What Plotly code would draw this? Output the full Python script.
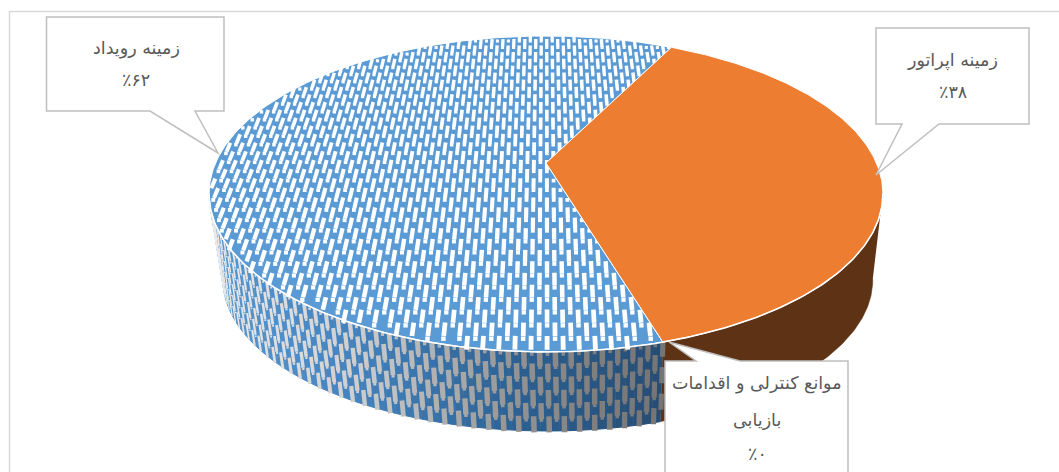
import numpy as np
import plotly.graph_objects as go

# Chart data
labels = [["زمینه اپراتور"], ["موانع کنترلی و اقدامات", "بازیابی"], ["زمینه رویداد"]]
values = [38, 0, 62]
first_slice_deg = 26.5

# Slice styling
top_colors = ["#ED7D31", "#A5A5A5", "#5B9BD5"]
side_colors = ["#5E3214", "#555555", None]
TEXT = "#595959"
CALLOUT = "#BFBFBF"

# Camera model of the tilted disc
CX, CY_APEX = 546.0, 163.0
A, B, K = 151.9, 330.4, 0.196
ELL_CX, ELL_CY = 544.0, 194.0
BOT_CX, BOT_CY = 546.0, 280.0
BOT_SX, BOT_SY = 0.964, 0.956


def project(xw, yw):
    d = 1 + K * yw
    return CX + B * xw / d, CY_APEX - A * yw / d


def rim(theta):
    return project(np.sin(theta), np.cos(theta))


def lower(px, py, h=1.0):
    qx = BOT_CX + BOT_SX * (px - ELL_CX)
    qy = BOT_CY + BOT_SY * (py - ELL_CY)
    return px + (qx - px) * h, py + (qy - py) * h


def mix(stops, x):
    xs = [s[0] for s in stops]
    rgb = [np.interp(x, xs, [s[1][i] for s in stops]) for i in range(3)]
    return np.stack(rgb, axis=-1)


def css(c):
    return "rgb(%d,%d,%d)" % tuple(int(round(v)) for v in c)


# Side wall shading from left to right across the blue slice
WALL_BLUE = [(210, (85, 150, 208)), (350, (68, 130, 190)), (400, (60, 120, 176)),
             (520, (44, 96, 145)), (600, (40, 84, 128)), (670, (38, 76, 115))]
WALL_GREY = [(210, (236, 236, 236)), (350, (208, 208, 208)), (400, (190, 190, 190)),
             (520, (146, 146, 146)), (600, (126, 126, 126)), (670, (116, 116, 116))]

# Slice angles, clockwise from straight up
fractions = np.array(values, dtype=float) / sum(values)
edges = np.radians(first_slice_deg + 360 * np.concatenate([[0], np.cumsum(fractions)]))

fig = go.Figure()


def polygon(x, y, fill, line=None, width=1.0):
    fig.add_trace(go.Scatter(x=x, y=y, mode="lines", fill="toself", fillcolor=fill,
                             line=dict(color=line or fill, width=width),
                             hoverinfo="skip", showlegend=False))


def wall_strips(lo, hi, count, colour_of):
    cuts = np.linspace(lo, hi, count + 1)
    for c0, c1 in zip(cuts[:-1], cuts[1:]):
        t = np.linspace(c0, c1, 4)
        px, py = rim(t)
        qx, qy = lower(px, py)
        polygon(np.r_[px, qx[::-1]], np.r_[py, qy[::-1]], colour_of(px.mean()))


# Side walls: only the parts of each slice that face the viewer
wall_from, wall_to = np.radians(101), np.radians(259)
for i, (a, b) in enumerate(zip(edges[:-1], edges[1:])):
    lo, hi = max(a, wall_from), min(b, wall_to)
    if hi <= lo:
        continue
    if side_colors[i]:
        t = np.linspace(lo, hi, 120)
        px, py = rim(t)
        qx, qy = lower(px, py)
        polygon(np.r_[px, qx[::-1]], np.r_[py, qy[::-1]], side_colors[i], width=0.5)
    else:
        wall_strips(lo, hi, 70, lambda x: css(mix(WALL_BLUE, x)))

        # Woven texture on the blue wall: staggered rows of bars with a dot between them
        step = np.radians(2.2)
        rows = 6
        bars = {"x": [], "y": [], "s": [], "w": [], "a": [], "c": []}
        dots = {"x": [], "y": [], "c": [], "s": []}
        for r in range(rows):
            hh = (r + 0.5) / rows
            start = lo + (step / 2 if r % 2 else 0.0)
            for th in np.arange(start, hi, step):
                px, py = rim(th)
                bx, by = lower(px, py, hh)
                tx, ty = lower(px, py, hh + 0.08)
                dx0, _ = rim(th + 0.01)
                scale = min(1.0, abs(dx0 - px) / 0.01 / 410.0)
                bars["x"].append(float(bx))
                bars["y"].append(float(by))
                bars["s"].append(11.5)
                bars["w"].append(max(1.2, 5.5 * scale))
                bars["a"].append(float(np.degrees(np.arctan2(tx - bx, -(ty - by)))))
                bars["c"].append(css(mix(WALL_GREY, bx)))
                px2, py2 = rim(th + step / 2)
                dx, dy = lower(px2, py2, hh - 0.055)
                dots["x"].append(float(dx))
                dots["y"].append(float(dy))
                dots["c"].append(css(mix(WALL_GREY, dx)))
                dots["s"].append(max(1.4, 3.6 * scale))
        fig.add_trace(go.Scatter(x=bars["x"], y=bars["y"], mode="markers", hoverinfo="skip",
                                 showlegend=False,
                                 marker=dict(symbol="line-ns", size=bars["s"], angle=bars["a"],
                                             opacity=1,
                                             line=dict(width=bars["w"], color=bars["c"]))))
        fig.add_trace(go.Scatter(x=dots["x"], y=dots["y"], mode="markers", hoverinfo="skip",
                                 showlegend=False,
                                 marker=dict(symbol="square", size=dots["s"], color=dots["c"],
                                             opacity=1, line=dict(width=0))))


def in_slice(xw, yw, a, b):
    return (np.arctan2(xw, yw) - a) % (2 * np.pi) < (b - a)


# Blue slice base, then its white texture, then the remaining slices on top
order = [2, 0, 1]
for i in order:
    a, b = edges[i], edges[i + 1]
    if b - a <= 0:
        continue
    t = np.linspace(a, b, 240)
    rx, ry = rim(t)
    polygon(np.r_[CX, rx, CX], np.r_[CY_APEX, ry, CY_APEX], top_colors[i], line="#FFFFFF", width=1)
    if i == 2:
        px_step, py_step = 13.0 / B, 9.0 / A
        xs, ys, sizes, widths, angles = [], [], [], [], []
        dx_, dy_, ds_ = [], [], []
        for j, yw in enumerate(np.arange(-1.02, 1.04, py_step)):
            offset = 0.5 * px_step if j % 2 else 0.0
            for xw in np.arange(-1.04 + offset, 1.04, px_step):
                d = 1 + K * yw
                reach = np.hypot(xw, yw - 0.012) if yw < 0 else np.hypot(xw, yw)
                if reach <= 1.0 and in_slice(xw, yw, a, b):
                    sx, sy = project(xw, yw)
                    ex, ey = project(xw, yw + 0.02)
                    xs.append(float(sx))
                    ys.append(float(sy))
                    sizes.append(7.2 / d ** 1.5)
                    widths.append(3.9 / d)
                    angles.append(float(np.degrees(np.arctan2(ex - sx, -(ey - sy)))))
                ox_w, oy_w = xw + px_step / 2, yw + py_step * 0.3
                if np.hypot(ox_w, oy_w) <= 0.995 and in_slice(ox_w, oy_w, a, b):
                    ox, oy = project(ox_w, oy_w)
                    dx_.append(float(ox))
                    dy_.append(float(oy))
                    ds_.append(3.6 / d)
        fig.add_trace(go.Scatter(x=xs, y=ys, mode="markers", hoverinfo="skip", showlegend=False,
                                 marker=dict(symbol="line-ns", size=sizes, angle=angles, opacity=1,
                                             line=dict(width=widths, color="#FFFFFF"))))
        fig.add_trace(go.Scatter(x=dx_, y=dy_, mode="markers", hoverinfo="skip", showlegend=False,
                                 marker=dict(symbol="square", size=ds_, color="#FFFFFF", opacity=1,
                                             line=dict(width=0))))

# Slice separators and front rim stay white
front = np.linspace(np.radians(101), np.radians(259), 200)
fx, fy = rim(front)
fig.add_trace(go.Scatter(x=fx, y=fy, mode="lines", line=dict(color="#FFFFFF", width=1.6),
                         hoverinfo="skip", showlegend=False))


def callout(box, pointer):
    x0, y0, x1, y1 = box
    (p0x, py), tip, (p1x, _) = pointer
    if abs(py - y1) < 1:
        path = (f"M{x0},{y0} L{x1},{y0} L{x1},{y1} L{max(p0x, p1x)},{y1} L{tip[0]},{tip[1]} "
                f"L{min(p0x, p1x)},{y1} L{x0},{y1} Z")
    else:
        path = (f"M{x0},{y0} L{min(p0x, p1x)},{y0} L{tip[0]},{tip[1]} L{max(p0x, p1x)},{y0} "
                f"L{x1},{y0} L{x1},{y1} L{x0},{y1} Z")
    return dict(type="path", path=path, xref="x", yref="y", fillcolor="#FFFFFF",
                line=dict(color=CALLOUT, width=1.5), layer="above")


shapes = [
    dict(type="rect", x0=9.5, y0=11.5, x1=1090, y1=500, xref="x", yref="y",
         line=dict(color="#D9D9D9", width=1.5), layer="below"),
    callout((46.5, 17, 224, 111), ((150, 111), (218, 153), (195, 111))),
    callout((876, 28, 1029, 124), ((902, 124), (876, 175), (939, 124))),
    callout((665, 361, 848, 500), ((696, 361), (669, 342), (740, 361))),
]

# Label lines: category text followed by the percentage in Persian digits
FA_DIGITS = str.maketrans("0123456789", "۰۱۲۳۴۵۶۷۸۹")
label_x = [952.5, 757, 136]
label_y = [[60, 92], [383, 420, 454], [48, 80]]
annotations = []
for i, lines in enumerate(labels):
    rows = lines + ["٪" + str(values[i]).translate(FA_DIGITS)]
    for line, y in zip(rows, label_y[i]):
        annotations.append(dict(x=label_x[i], y=y, xref="x", yref="y", text=line, showarrow=False,
                                xanchor="center", yanchor="middle",
                                font=dict(family="DejaVu Sans", size=17.5, color=TEXT)))

fig.update_layout(
    width=1059, height=472, margin=dict(l=0, r=0, t=0, b=0),
    paper_bgcolor="#FFFFFF", plot_bgcolor="#FFFFFF", showlegend=False,
    xaxis=dict(range=[0, 1059], visible=False, fixedrange=True),
    yaxis=dict(range=[472, 0], visible=False, fixedrange=True),
    shapes=shapes, annotations=annotations,
)

fig.write_html("out.html", config=dict(displayModeBar=False))
